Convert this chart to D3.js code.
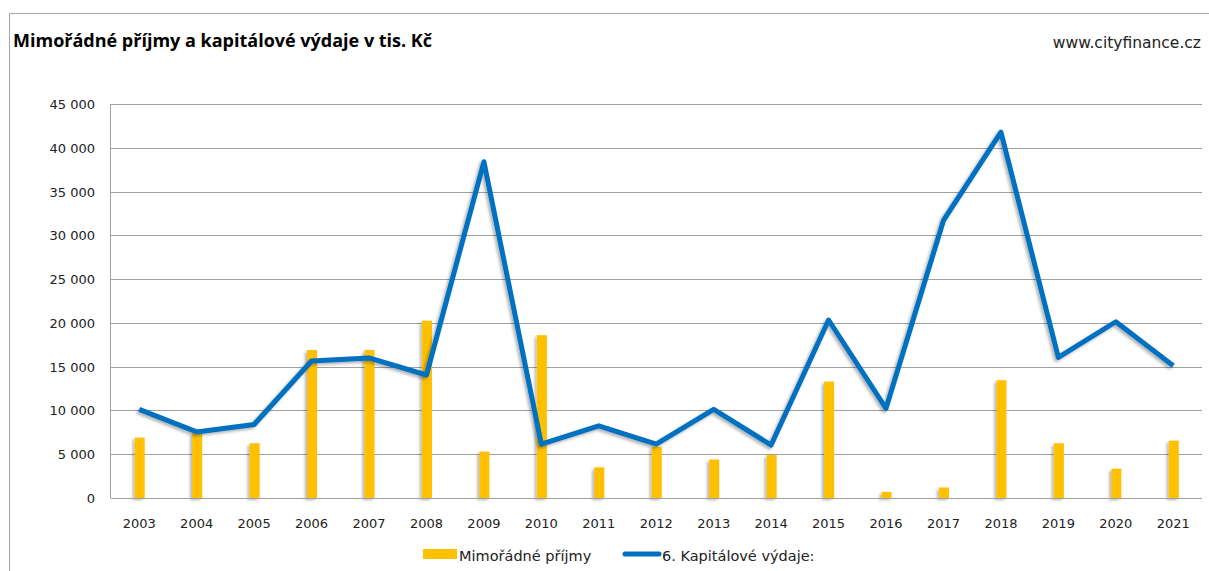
<!DOCTYPE html>
<html>
<head>
  <meta charset="utf-8">
  <script src="https://d3js.org/d3.v7.min.js"></script>
  <style>
    body { margin: 0; background: #fff; }
    text { font-family: "DejaVu Sans", Verdana, sans-serif; }
  </style>
</head>
<body>
  <div id="chart"></div>
  <script>
    // data
    const years = ["2003", "2004", "2005", "2006", "2007", "2008", "2009", "2010", "2011", "2012",
      "2013", "2014", "2015", "2016", "2017", "2018", "2019", "2020", "2021"];
    const mimoradnePrijmy = [6900, 7400, 6250, 16900, 16900, 20250, 5300, 18600, 3500, 5850,
      4400, 4900, 13300, 700, 1200, 13450, 6250, 3350, 6550];
    const kapitaloveVydaje = [10130, 7550, 8400, 15650, 16000, 14050, 38400, 6150, 8250, 6150,
      10130, 6050, 20330, 10240, 31700, 41800, 16050, 20130, 15100];
    const yTicks = [0, 5000, 10000, 15000, 20000, 25000, 30000, 35000, 40000, 45000];

    const W = 1209, H = 571;
    const svg = d3.select("#chart").append("svg")
      .attr("width", W).attr("height", H);

    // shadow like the excel export
    const defs = svg.append("defs");
    const f = defs.append("filter").attr("id", "shadow")
      .attr("x", "-20%").attr("y", "-20%").attr("width", "140%").attr("height", "140%");
    f.append("feDropShadow").attr("dx", -2).attr("dy", 2).attr("stdDeviation", 1.5)
      .attr("flood-color", "#000").attr("flood-opacity", 0.3);

    // outer frame (left + top visible)
    svg.append("path")
      .attr("d", "M9.5," + H + " V13.5 H" + W)
      .attr("fill", "none").attr("stroke", "#a6a6a6");

    svg.append("text")
      .attr("x", 13).attr("y", 47)
      .style("font-family", "'Open Sans', sans-serif")
      .style("font-weight", "bold")
      .style("font-size", "18px")
      .attr("fill", "#000")
      .text("Mimořádné příjmy a kapitálové výdaje v tis. Kč");

    svg.append("text")
      .attr("x", 1201).attr("y", 48)
      .attr("text-anchor", "end")
      .style("font-size", "15.5px")
      .attr("fill", "#222")
      .text("www.cityfinance.cz");

    const plotL = 110.5, plotR = 1202, plotT = 104, plotB = 498;

    const x = d3.scaleBand().domain(years).range([plotL, plotR]);
    const y = d3.scaleLinear().domain([0, 45000]).range([plotB, plotT]);

    // gridlines
    svg.append("g")
      .selectAll("line")
      .data(yTicks.filter(d => d > 0))
      .join("line")
      .attr("x1", plotL).attr("x2", plotR)
      .attr("y1", d => Math.round(y(d)) + 0.5)
      .attr("y2", d => Math.round(y(d)) + 0.5)
      .attr("stroke", "#a0a0a0").attr("stroke-width", 1);

    // y axis labels
    const fmt = d => d3.format(",")(d).replace(/,/g, " ");
    svg.append("g")
      .selectAll("text")
      .data(yTicks)
      .join("text")
      .attr("x", 95).attr("y", d => y(d) + 5)
      .attr("text-anchor", "end")
      .style("font-size", "13px")
      .attr("fill", "#222")
      .text(fmt);

    // bars
    const barW = 10;
    svg.append("g")
      .attr("filter", "url(#shadow)")
      .selectAll("rect")
      .data(mimoradnePrijmy)
      .join("rect")
      .attr("x", (d, i) => x(years[i]) + x.bandwidth() / 2 - barW / 2 + 0.5)
      .attr("y", d => y(d))
      .attr("width", barW)
      .attr("height", d => plotB - y(d))
      .attr("fill", "#ffc000");

    // axis lines
    svg.append("line")
      .attr("x1", plotL).attr("x2", plotL).attr("y1", plotT).attr("y2", plotB)
      .attr("stroke", "#a0a0a0");
    svg.append("line")
      .attr("x1", plotL).attr("x2", plotR).attr("y1", plotB + 0.5).attr("y2", plotB + 0.5)
      .attr("stroke", "#a0a0a0");

    // line
    const line = d3.line()
      .x((d, i) => x(years[i]) + x.bandwidth() / 2)
      .y(d => y(d));
    svg.append("path")
      .datum(kapitaloveVydaje)
      .attr("d", line)
      .attr("fill", "none")
      .attr("stroke", "#0070c0")
      .attr("stroke-width", 5)
      .attr("stroke-linejoin", "round")
      .attr("filter", "url(#shadow)");

    // x labels
    svg.append("g")
      .selectAll("text")
      .data(years)
      .join("text")
      .attr("x", d => x(d) + x.bandwidth() / 2)
      .attr("y", 528)
      .attr("text-anchor", "middle")
      .style("font-size", "13px")
      .attr("fill", "#222")
      .text(d => d);

    // legend
    const lg = svg.append("g");
    lg.append("rect").attr("x", 423).attr("y", 549).attr("width", 34).attr("height", 10).attr("fill", "#ffc000");
    lg.append("text").attr("x", 459).attr("y", 561).style("font-size", "14.5px").attr("fill", "#222").text("Mimořádné příjmy");
    lg.append("line").attr("x1", 625).attr("x2", 659).attr("y1", 554).attr("y2", 554)
      .attr("stroke", "#0070c0").attr("stroke-width", 5).attr("stroke-linecap", "round");
    lg.append("text").attr("x", 662).attr("y", 561).style("font-size", "14.5px").attr("fill", "#222").text("6. Kapitálové výdaje:");
  </script>
</body>
</html>
